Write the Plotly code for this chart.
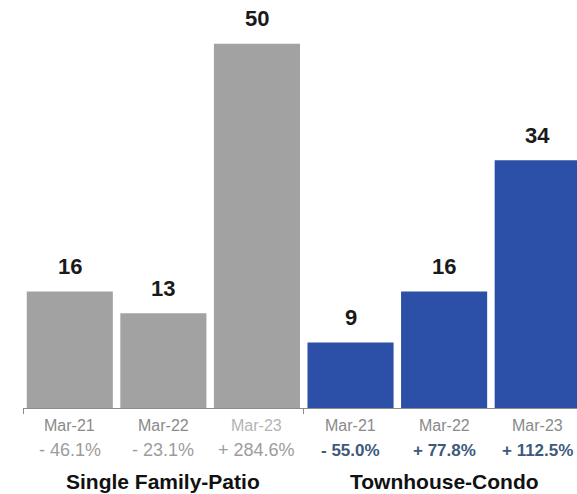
import plotly.graph_objects as go

# Monthly counts by property type
periods = ["Mar-21", "Mar-22", "Mar-23"]
single_family = [16, 13, 50]
townhouse = [9, 16, 34]
sf_change = ["- 46.1%", "- 23.1%", "+ 284.6%"]
tc_change = ["- 55.0%", "+ 77.8%", "+ 112.5%"]
groups = ["Single Family-Patio", "Townhouse-Condo"]

FONT = "Liberation Sans, Arial, Helvetica, sans-serif"
GRAY_BAR = "#a2a2a2"
BLUE_BAR = "#2c4fa7"

sf_x = list(range(len(single_family)))
tc_x = [len(single_family) + i for i in range(len(townhouse))]

fig = go.Figure()
fig.add_trace(go.Bar(x=sf_x, y=single_family, width=0.92,
                     marker=dict(color=GRAY_BAR, line=dict(width=0)),
                     hoverinfo="skip"))
fig.add_trace(go.Bar(x=tc_x, y=townhouse, width=0.92,
                     marker=dict(color=BLUE_BAR, line=dict(width=0)),
                     hoverinfo="skip"))

annotations = []
# value labels above bars
for xs, vals in ((sf_x, single_family), (tc_x, townhouse)):
    for x, v in zip(xs, vals):
        annotations.append(dict(x=x, y=v, xref="x", yref="y", text="<b>%d</b>" % v,
                                showarrow=False, yanchor="middle", yshift=25,
                                font=dict(family=FONT, size=22, color="#1a1a1a")))

# period labels and percent changes under bars
period_colors_sf = ["#8a8a8a", "#8a8a8a", "#b4b4b4"]
for i, x in enumerate(sf_x):
    annotations.append(dict(x=x, y=0, xref="x", yref="paper", text=periods[i],
                            showarrow=False, yanchor="middle", yshift=-17,
                            font=dict(family=FONT, size=16, color=period_colors_sf[i])))
    annotations.append(dict(x=x, y=0, xref="x", yref="paper", text=sf_change[i],
                            showarrow=False, yanchor="middle", yshift=-42,
                            font=dict(family=FONT, size=18, color="#9c9c9c")))
for i, x in enumerate(tc_x):
    annotations.append(dict(x=x, y=0, xref="x", yref="paper", text=periods[i],
                            showarrow=False, yanchor="middle", yshift=-17,
                            font=dict(family=FONT, size=16, color="#8a8a8a")))
    annotations.append(dict(x=x, y=0, xref="x", yref="paper",
                            text="<b>" + tc_change[i] + "</b>",
                            showarrow=False, yanchor="middle", yshift=-42,
                            font=dict(family=FONT, size=17, color="#3d5a7c")))

# group titles centred under each group
for name, xs in zip(groups, (sf_x, tc_x)):
    annotations.append(dict(x=sum(xs) / len(xs), y=0, xref="x", yref="paper",
                            text="<b>" + name + "</b>", showarrow=False,
                            yanchor="middle", yshift=-73,
                            font=dict(family=FONT, size=21, color="#111111")))

fig.update_layout(
    width=577, height=494,
    margin=dict(l=23, r=0, t=0, b=86),
    paper_bgcolor="white", plot_bgcolor="white",
    barmode="overlay", showlegend=False,
    annotations=annotations,
    xaxis=dict(range=[-0.5, 5.42], showgrid=False, zeroline=False,
               showline=True, linecolor="#8c8c8c", linewidth=1,
               tickvals=[-0.5, 2.5], ticks="outside", ticklen=5,
               tickcolor="#8c8c8c", showticklabels=False, fixedrange=True),
    yaxis=dict(range=[0, 56], visible=False, fixedrange=True),
)

fig.write_html("out.html", config={"displayModeBar": False})
